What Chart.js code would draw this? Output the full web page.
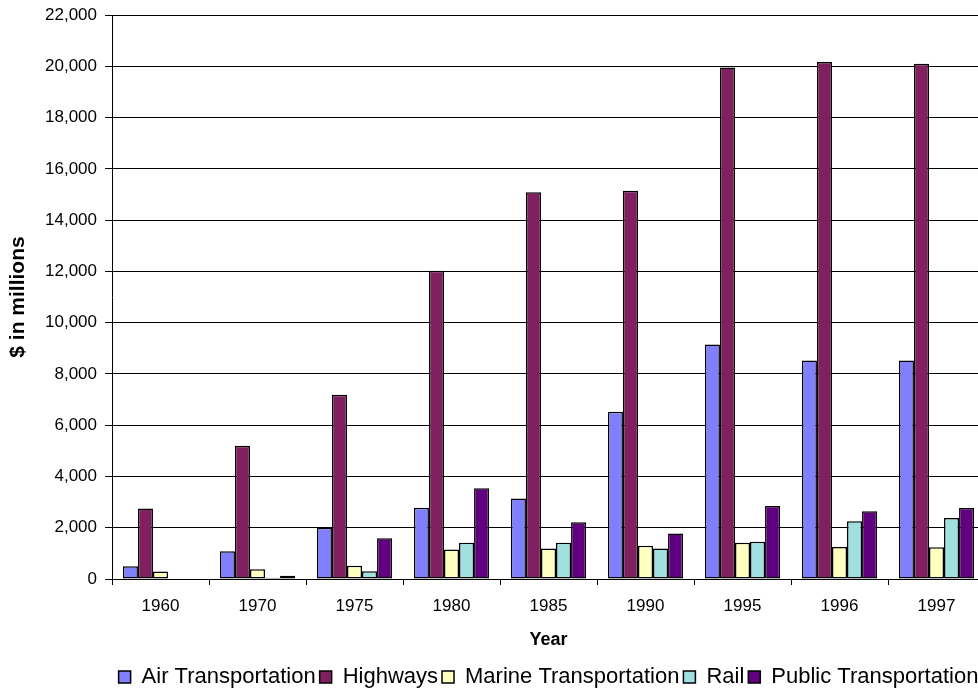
<!DOCTYPE html>
<html lang="en">
  <head>
    <meta charset="UTF-8" />
    <title>Transportation spending</title>
    <script src="https://cdn.jsdelivr.net/npm/chart.js"></script>
    <style>
      html, body { margin: 0; padding: 0; background: #fff; overflow: hidden; }
      #wrap { width: 978px; height: 690px; overflow: hidden; }
    </style>
  </head>
  <body>
    <div id="wrap">
      <canvas id="spendChart" width="990" height="690"></canvas>
    </div>
    <script>
      // values ($ in millions)
      var years = ["1960", "1970", "1975", "1980", "1985", "1990", "1995", "1996", "1997"];
      var air = [500, 1080, 2000, 2780, 3140, 6520, 9150, 8520, 8520];
      var highways = [2750, 5200, 7190, 12020, 15090, 15140, 19950, 20170, 20100];
      var marine = [290, 380, 520, 1150, 1190, 1300, 1410, 1250, 1240];
      var rail = [0, 50, 300, 1410, 1410, 1190, 1450, 2250, 2380];
      var publicTr = [0, 130, 1590, 3540, 2210, 1770, 2850, 2640, 2770];
      var yTicks = [0, 2000, 4000, 6000, 8000, 10000, 12000, 14000, 16000, 18000, 20000, 22000];

      var font = "'Liberation Sans', Arial, sans-serif";

      // center legend under the plot area, like the original
      var legendCenter = {
        id: "legendCenter",
        beforeDraw: function (chart) {
          if (chart.legend) {
            chart.legend.left = chart.chartArea.left;
            chart.legend.right = chart.chartArea.right;
          }
        },
      };

      function ds(label, data, color) {
        return {
          label: label,
          data: data,
          backgroundColor: color,
          borderColor: "#000",
          borderWidth: 1.5,
          borderSkipped: false,
          categoryPercentage: 0.775,
          barPercentage: 1.0,
        };
      }

      var ctx = document.getElementById("spendChart").getContext("2d");
      new Chart(ctx, {
        type: "bar",
        data: {
          labels: years,
          datasets: [
            ds("Air Transportation", air, "#8080FF"),
            ds("Highways", highways, "#802060"),
            ds("Marine Transportation", marine, "#FFFFC0"),
            ds("Rail", rail, "#A0E0E0"),
            ds("Public Transportation", publicTr, "#600080"),
          ],
        },
        options: {
          responsive: false,
          animation: false,
          layout: { padding: { top: 15, right: 5, left: 6, bottom: -8 } },
          plugins: {
            tooltip: { enabled: false },
            legend: {
              position: "bottom",
              labels: {
                color: "#000",
                font: { family: font, size: 22 },
                boxWidth: 12,
                boxHeight: 12,
                padding: 4,
              },
            },
          },
          scales: {
            x: {
              grid: {
                offset: true,
                drawOnChartArea: false,
                color: "#000",
                tickLength: 6,
              },
              border: { color: "#000" },
              ticks: { color: "#000", font: { family: font, size: 17 }, padding: 11 },
              title: {
                display: true,
                text: "Year",
                color: "#000",
                font: { family: font, size: 18, weight: "bold" },
                padding: { top: 2, bottom: 11 },
              },
            },
            y: {
              min: 0,
              max: 22000,
              afterBuildTicks: function (scale) {
                scale.ticks = yTicks.map(function (v) { return { value: v }; });
              },
              afterFit: function (scale) {
                scale.width = 112 - 6;
                scale.paddingTop = 0;
                scale.paddingBottom = 0;
              },
              grid: { color: "#000", tickLength: 7 },
              border: { color: "#000" },
              ticks: {
                color: "#000",
                font: { family: font, size: 17 },
                padding: 8,
                callback: function (v) { return v.toLocaleString("en-US"); },
              },
              title: {
                display: true,
                text: "$ in millions",
                color: "#000",
                font: { family: font, size: 21, weight: "bold" },
                padding: { top: 0, bottom: 4 },
              },
            },
          },
        },
        plugins: [legendCenter],
      });
    </script>
  </body>
</html>
